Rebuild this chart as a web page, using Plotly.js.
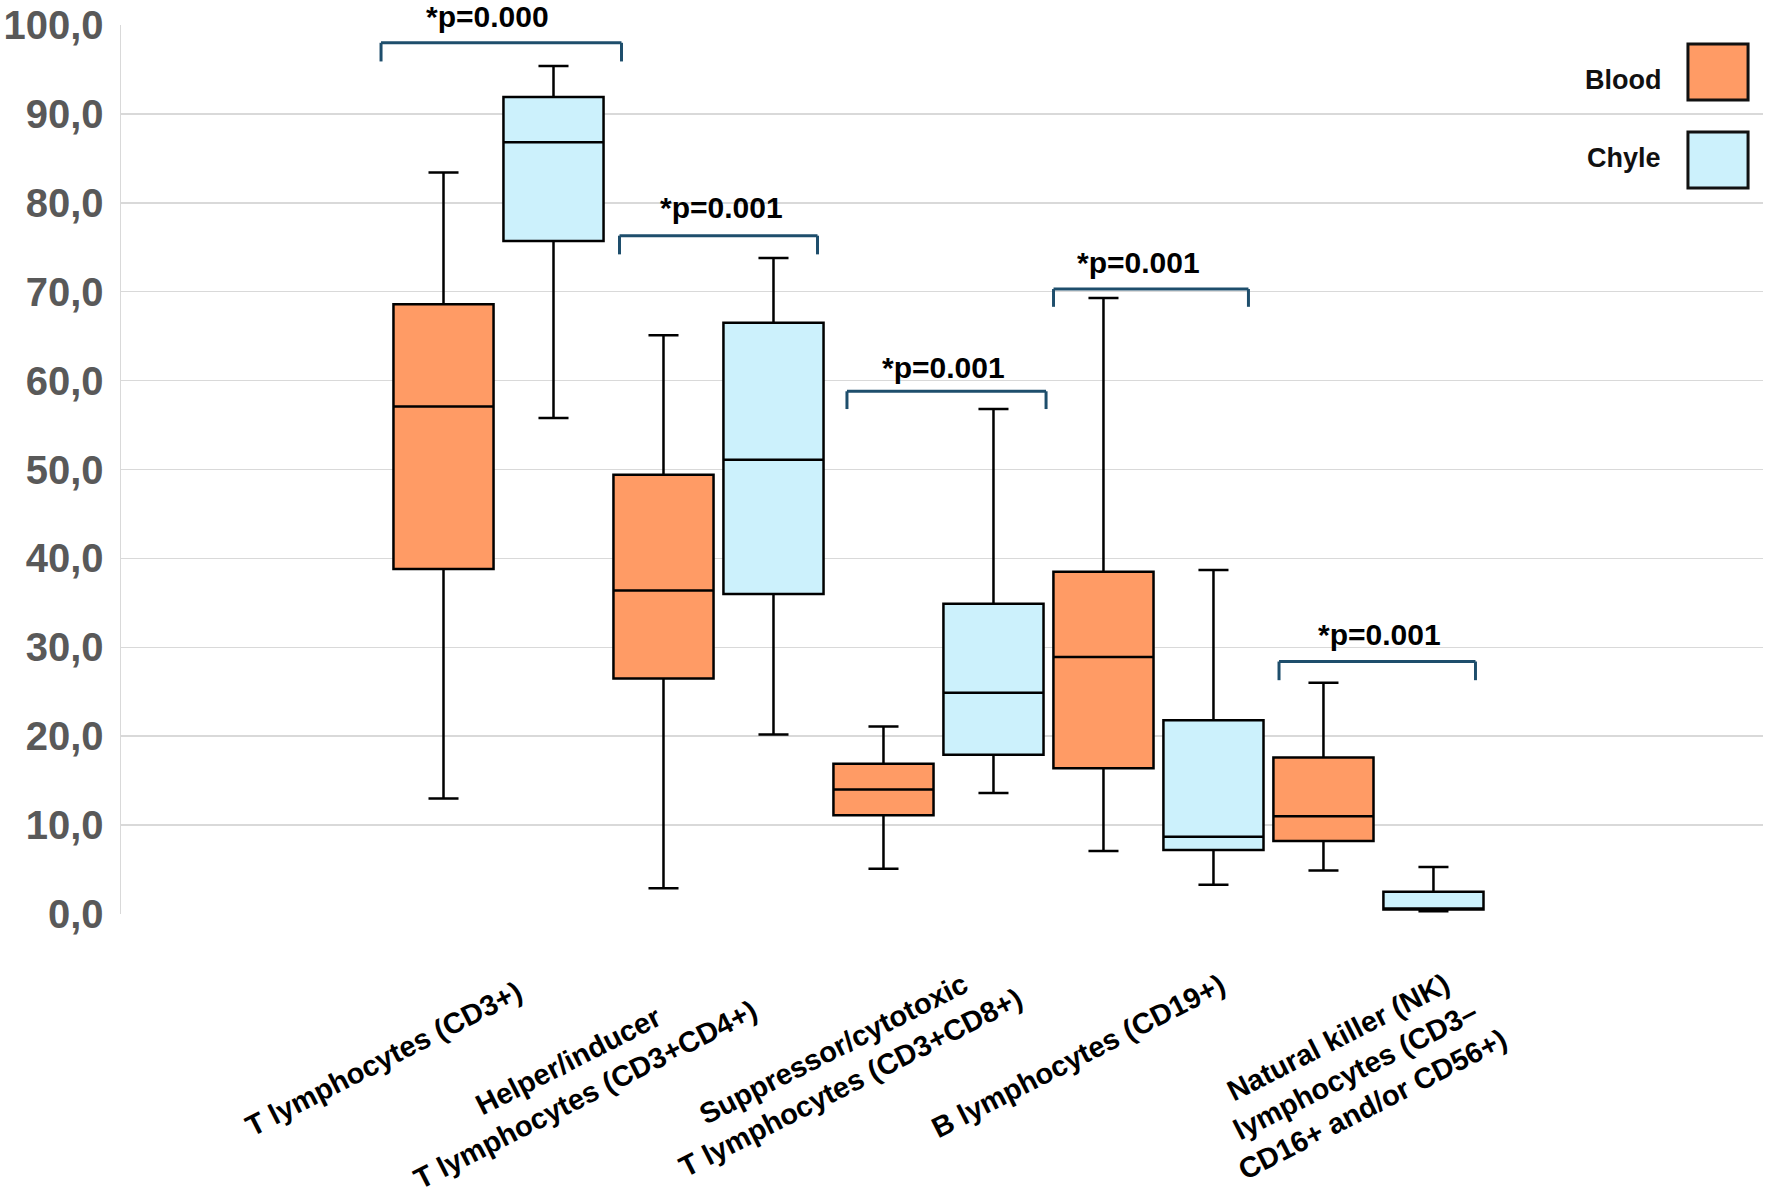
<!DOCTYPE html>
<html>
<head>
<meta charset="utf-8">
<script src="https://cdn.plot.ly/plotly-3.0.1.min.js"></script>
<style>
  html, body { margin: 0; padding: 0; background: #ffffff; }
  #chart { width: 1772px; height: 1194px; }
</style>
</head>
<body>
<div id="chart"></div>
<script>
// ---------------- data ----------------
const categories = [
  'T lymphocytes (CD3+)',
  'Helper/inducer<br>T lymphocytes (CD3+CD4+)',
  'Suppressor/cytotoxic<br>T lymphocytes (CD3+CD8+)',
  'B lymphocytes (CD19+)',
  'Natural killer (NK)<br>lymphocytes (CD3–<br>CD16+ and/or CD56+)'
];

const bloodMin    = [13.0,  2.9,  5.1,  7.1,  4.9];
const bloodQ1     = [38.8, 26.5, 11.1, 16.4,  8.2];
const bloodMedian = [57.1, 36.4, 14.0, 28.9, 11.0];
const bloodQ3     = [68.6, 49.4, 16.9, 38.5, 17.6];
const bloodMax    = [83.4, 65.1, 21.1, 69.3, 26.0];

const chyleMin    = [55.8, 20.2, 13.6,  3.3, 0.3];
const chyleQ1     = [75.7, 36.0, 17.9,  7.2, 0.5];
const chyleMedian = [86.8, 51.1, 24.9,  8.7, 0.6];
const chyleQ3     = [91.9, 66.5, 34.9, 21.8, 2.5];
const chyleMax    = [95.4, 73.8, 56.8, 38.7, 5.3];

const pLabels = ['*p=0.000', '*p=0.001', '*p=0.001', '*p=0.001', '*p=0.001'];

const seriesNames = ['Blood', 'Chyle'];

// ---------------- styling / placement (not data) ----------------
const COL_BLOOD = '#FF9B65';
const COL_CHYLE = '#CCF1FC';
const BRACKET_COL = '#1E4E6C';
const FONT = 'Liberation Sans, Arial, sans-serif';
const Y_MAX = 100;

// bracket geometry per category: [left offset, right offset, top y, end y]
const bracketGeom = [
  [-0.534, 0.559, 98.0, 95.9],
  [-0.450, 0.450, 76.3, 74.2],
  [-0.416, 0.489, 58.8, 56.8],
  [-0.477, 0.409, 70.3, 68.3],
  [-0.452, 0.441, 28.4, 26.3]
];
// p-text placement per category: [x offset, y (axis units)]
const pTextPos = [
  [-0.05, 100.9], [0.014, 79.5], [0.023, 61.5], [-0.093, 73.3], [0.005, 31.4]
];
// category label placement: [x offset (category units), paper y]
const catLabelPos = [
  [-0.525, -0.163], [-0.645, -0.185], [-0.44, -0.171], [-0.364, -0.160], [-0.105, -0.176]
];

const traces = [
  {
    type: 'box', name: seriesNames[0], x: categories,
    q1: bloodQ1, median: bloodMedian, q3: bloodQ3,
    lowerfence: bloodMin, upperfence: bloodMax,
    fillcolor: COL_BLOOD, line: { color: '#000000', width: 2.5 },
    whiskerwidth: 0.3, boxpoints: false, showlegend: false
  },
  {
    type: 'box', name: seriesNames[1], x: categories,
    q1: chyleQ1, median: chyleMedian, q3: chyleQ3,
    lowerfence: chyleMin, upperfence: chyleMax,
    fillcolor: COL_CHYLE, line: { color: '#000000', width: 2.5 },
    whiskerwidth: 0.3, boxpoints: false, showlegend: false
  }
];

const shapes = [];
const annotations = [];

bracketGeom.forEach((g, i) => {
  const [l, r, top, end] = g;
  const ln = { color: BRACKET_COL, width: 3 };
  shapes.push({ type: 'line', xref: 'x', yref: 'y', x0: i + l, x1: i + r, y0: top, y1: top, line: ln });
  shapes.push({ type: 'line', xref: 'x', yref: 'y', x0: i + l, x1: i + l, y0: top, y1: end, line: ln });
  shapes.push({ type: 'line', xref: 'x', yref: 'y', x0: i + r, x1: i + r, y0: top, y1: end, line: ln });
  annotations.push({
    xref: 'x', yref: 'paper', x: i + pTextPos[i][0], y: pTextPos[i][1] / Y_MAX,
    text: pLabels[i], showarrow: false, xanchor: 'center', yanchor: 'middle',
    font: { family: FONT, size: 30, color: '#000000', weight: 'bold' }
  });
});

categories.forEach((c, i) => {
  annotations.push({
    xref: 'x', yref: 'paper', x: i + catLabelPos[i][0], y: catLabelPos[i][1],
    text: c, showarrow: false, textangle: -27, align: 'center',
    xanchor: 'center', yanchor: 'middle',
    font: { family: FONT, size: 29, color: '#000000', weight: 'bold' }
  });
});

// custom legend (text left, swatch right)
const legendRows = [
  { name: seriesNames[0], color: COL_BLOOD, y0: 0.9156, y1: 0.9786, ty: 0.938 },
  { name: seriesNames[1], color: COL_CHYLE, y0: 0.8166, y1: 0.8796, ty: 0.850 }
];
legendRows.forEach(r => {
  shapes.push({
    type: 'rect', xref: 'paper', yref: 'paper', x0: 0.9543, x1: 0.9909, y0: r.y0, y1: r.y1,
    fillcolor: r.color, line: { color: '#111111', width: 3 }
  });
  annotations.push({
    xref: 'paper', yref: 'paper', x: 0.9391, y: r.ty, text: r.name, showarrow: false,
    xanchor: 'right', yanchor: 'middle',
    font: { family: FONT, size: 27, color: '#111111', weight: 'bold' }
  });
});

const layout = {
  width: 1772, height: 1194,
  margin: { l: 121, r: 9, t: 25, b: 280 },
  paper_bgcolor: '#ffffff', plot_bgcolor: '#ffffff',
  separators: ', ',
  boxmode: 'group', boxgap: 0, boxgroupgap: 0.09,
  showlegend: false,
  xaxis: {
    type: 'category', range: [-1.716, 5.748],
    showgrid: false, zeroline: false, showline: false,
    showticklabels: false, ticks: ''
  },
  yaxis: {
    range: [0, Y_MAX], dtick: 10, tick0: 0, tickformat: '.1f',
    showgrid: true, gridcolor: '#D9D9D9', gridwidth: 1.5,
    zeroline: false, showline: true, linecolor: '#D9D9D9', linewidth: 1.5,
    ticks: '', ticklabelstandoff: 8,
    tickfont: { family: FONT, size: 40, color: '#595959', weight: 'bold' }
  },
  shapes: shapes,
  annotations: annotations
};

Plotly.newPlot('chart', traces, layout, { staticPlot: true, displayModeBar: false });
</script>
</body>
</html>
